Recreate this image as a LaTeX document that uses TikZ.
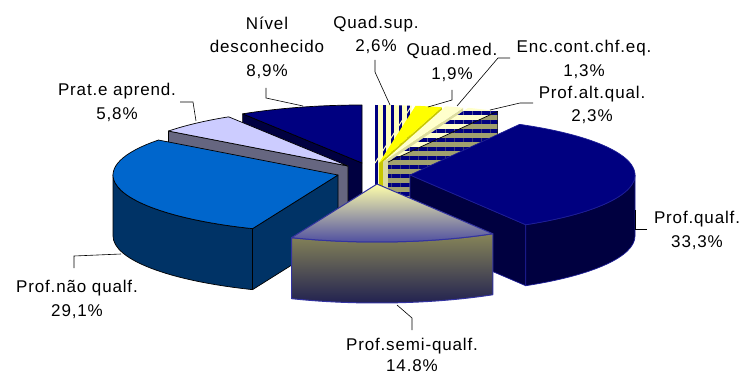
\documentclass[tikz,border=0pt]{standalone}
\usepackage{fontspec}
\setmainfont[LetterSpace=5]{Liberation Sans}
\usepackage{tikz}
\usetikzlibrary{calc,patterns.meta}
\definecolor{navy}{RGB}{0,0,128}
\definecolor{navyside}{RGB}{0,0,64}
\definecolor{navyline}{RGB}{30,30,150}
\definecolor{bluetop}{RGB}{0,102,204}
\definecolor{blueside}{RGB}{0,51,102}
\definecolor{lavtop}{RGB}{204,204,255}
\definecolor{lavside}{RGB}{102,102,128}
\definecolor{palebg}{RGB}{255,255,190}
\definecolor{enctop}{RGB}{255,255,204}
\definecolor{encside}{RGB}{220,220,160}
\definecolor{medtop}{RGB}{255,255,0}
\definecolor{medside}{RGB}{200,200,0}
\definecolor{khaki}{RGB}{160,160,110}
\definecolor{semitopA}{RGB}{255,255,170}
\definecolor{semitopB}{RGB}{72,72,160}
\definecolor{semisideA}{RGB}{135,133,88}
\definecolor{semisideB}{RGB}{30,30,80}
\definecolor{semiline}{RGB}{51,51,160}
\tikzstyle{rim}=[x radius=225,y radius=58]
\tikzstyle{slice}=[draw=black,line width=0.7pt,line join=round]
\tikzstyle{qslice}=[draw=navyline,line width=0.7pt,line join=round]
\tikzstyle{sslice}=[draw=semiline,line width=1pt,line join=round]
\tikzstyle{vstripe}=[preaction={fill=palebg},pattern={Lines[angle=90,distance=8pt,line width=3pt]},pattern color=navy]
\tikzstyle{hstripe}=[preaction={fill=enctop},pattern={Lines[angle=0,distance=9pt,line width=4pt]},pattern color=navy]
\tikzstyle{hstripeside}=[preaction={fill=khaki},pattern={Lines[angle=0,distance=9pt,line width=4pt]},pattern color=navy]
\tikzstyle{lbl}=[align=center,inner sep=0pt,font=\fontsize{17}{23.5}\selectfont]
\tikzstyle{leader}=[draw=black,line width=0.6pt]

\begin{document}
\begin{tikzpicture}[x=1pt,y=-1pt]
\useasboundingbox (0,0) rectangle (743,374);
% apex of every slice
\coordinate (nivel) at (362,163);
\coordinate (qsup) at (375,163);
\coordinate (qmed) at (379,163);
\coordinate (enc) at (383,162);
\coordinate (alt) at (388,162);
\coordinate (prat) at (348,166);
\coordinate (qualf) at (410,175);
\coordinate (nao) at (338,175);
\coordinate (semi) at (377,184);

% Nivel desconhecido
\filldraw[slice,fill=navyside] (nivel) -- ($(nivel)+(237.96:225 and 58)$) -- ++(0,61) -- ($(nivel)+(0,61)$) -- cycle;
\filldraw[slice,fill=navy] (nivel) -- ($(nivel)+(237.96:225 and 58)$) arc[rim,start angle=237.96,end angle=270] -- cycle;

% Quad.sup
\path[vstripe] (qsup) -- ($(qsup)+(-80.64:225 and 58)$) -- ++(0,61) -- ($(qsup)+(0,61)$) -- cycle;
\path[vstripe] (qsup) -- ($(qsup)+(-90:225 and 58)$) arc[rim,start angle=-90,end angle=-80.64] -- cycle;
\draw[draw=palebg,line width=1pt] (qsup) -- ($(qsup)+(-80.64:225 and 58)$);

% Quad.med
\fill[fill=medside] (qmed) -- ($(qmed)+(-73.8:225 and 58)$) -- ++(0,61) -- ($(qmed)+(0,61)$) -- cycle;
\fill[fill=medtop] (qmed) -- ($(qmed)+(-80.64:225 and 58)$) arc[rim,start angle=-80.64,end angle=-73.8] -- cycle;

% Enc.cont.chf.eq.
\fill[fill=encside] (enc) -- ($(enc)+(-69.12:225 and 58)$) -- ++(0,61) -- ($(enc)+(0,61)$) -- cycle;
\fill[fill=enctop] (enc) -- ($(enc)+(-73.8:225 and 58)$) arc[rim,start angle=-73.8,end angle=-69.12] -- cycle;

% Prof.alt.qual.
\path[hstripeside] (alt) -- ($(alt)+(-60.84:225 and 58)$) -- ++(0,61) -- ($(alt)+(0,61)$) -- cycle;
\path[hstripe] (alt) -- ($(alt)+(-69.12:225 and 58)$) arc[rim,start angle=-69.12,end angle=-60.84] -- cycle;
\draw[slice] (alt) -- ($(alt)+(-60.84:225 and 58)$) -- ++(0,61);

% Prat.e aprend.
\filldraw[slice,fill=lavside] (prat) -- ($(prat)+(217.08:225 and 58)$) -- ++(0,61) -- ($(prat)+(0,61)$) -- cycle;
\filldraw[slice,fill=lavtop] (prat) -- ($(prat)+(217.08:225 and 58)$) arc[rim,start angle=217.08,end angle=237.96] -- cycle;

% Prof.qualf.
\filldraw[qslice,fill=navyside] (qualf) -- ($(qualf)+(59.04:225 and 58)$) -- ++(0,61) -- ($(qualf)+(0,61)$) -- cycle;
\filldraw[qslice,fill=navyside] ($(qualf)+(0:225 and 58)$) arc[rim,start angle=0,end angle=59.04] -- ++(0,61) arc[rim,start angle=59.04,end angle=0] -- cycle;
\filldraw[qslice,fill=navy] (qualf) -- ($(qualf)+(-60.84:225 and 58)$) arc[rim,start angle=-60.84,end angle=59.04] -- cycle;

% Prof.nao qualf.
\filldraw[slice,fill=blueside] (nao) -- ($(nao)+(112.32:225 and 58)$) -- ++(0,61) -- ($(nao)+(0,61)$) -- cycle;
\filldraw[slice,fill=blueside] ($(nao)+(112.32:225 and 58)$) arc[rim,start angle=112.32,end angle=180] -- ++(0,61) arc[rim,start angle=180,end angle=112.32] -- cycle;
\filldraw[slice,fill=bluetop] (nao) -- ($(nao)+(112.32:225 and 58)$) arc[rim,start angle=112.32,end angle=217.08] -- cycle;

% Prof.semi-qualf.
\shadedraw[sslice,top color=semisideA,bottom color=semisideB] ($(semi)+(59.04:225 and 58)$) arc[rim,start angle=59.04,end angle=112.32] -- ++(0,61) arc[rim,start angle=112.32,end angle=59.04] -- cycle;
\shadedraw[sslice,top color=semitopA,bottom color=semitopB] (semi) -- ($(semi)+(59.04:225 and 58)$) arc[rim,start angle=59.04,end angle=112.32] -- cycle;

% labels
\node[lbl] (lblNivel) at (267,47.5) {Nível\\desconhecido\\8,9\%};
\node[lbl] (lblSup) at (376,35) {Quad.sup.\\2,6\%};
\node[lbl] (lblMed) at (452,62.5) {Quad.med.\\1,9\%};
\node[lbl] (lblEnc) at (584,59.5) {Enc.cont.chf.eq.\\1,3\%};
\node[lbl] (lblAlt) at (592,105) {Prof.alt.qual.\\2,3\%};
\node[lbl] (lblQualf) at (697,230.5) {Prof.qualf.\\33,3\%};
\node[lbl,font=\fontsize{17}{21}\selectfont] (lblSemi) at (412,355) {Prof.semi-qualf.\\14.8\%};
\node[lbl] (lblNao) at (77,299.5) {Prof.não qualf.\\29,1\%};
\node[lbl] (lblPrat) at (117,102.5) {Prat.e aprend.\\5,8\%};

% leader lines
\coordinate (nivelA) at (266,88);   \coordinate (nivelB) at (266,98);   \coordinate (nivelC) at (303,106);
\coordinate (supA) at (375,60);     \coordinate (supB) at (375,72);     \coordinate (supC) at (390,105);
\coordinate (medA) at (452,90);     \coordinate (medB) at (452,100);    \coordinate (medC) at (428,107);
\coordinate (encA) at (510,58);     \coordinate (encB) at (498,58);     \coordinate (encC) at (457,106);
\coordinate (altA) at (533,103);    \coordinate (altB) at (520,103);    \coordinate (altC) at (490,110);
\coordinate (qualfA) at (647,229);  \coordinate (qualfB) at (635,229);  \coordinate (qualfC) at (635,210);
\coordinate (semiA) at (412,330);   \coordinate (semiB) at (412,318);   \coordinate (semiC) at (397,305);
\coordinate (naoA) at (74,268);     \coordinate (naoB) at (74,256);     \coordinate (naoC) at (121,254);
\coordinate (pratA) at (180,102);   \coordinate (pratB) at (193,102);   \coordinate (pratC) at (196,121);
\draw[leader] (nivelA) -- (nivelB) -- (nivelC);
\draw[leader] (supA) -- (supB) -- (supC);
\draw[leader] (medA) -- (medB) -- (medC);
\draw[leader] (encA) -- (encB) -- (encC);
\draw[leader] (altA) -- (altB) -- (altC);
\draw[leader] (qualfA) -- (qualfB) -- (qualfC);
\draw[leader] (semiA) -- (semiB) -- (semiC);
\draw[leader] (naoA) -- (naoB) -- (naoC);
\draw[leader] (pratA) -- (pratB) -- (pratC);
\end{tikzpicture}
\end{document}
